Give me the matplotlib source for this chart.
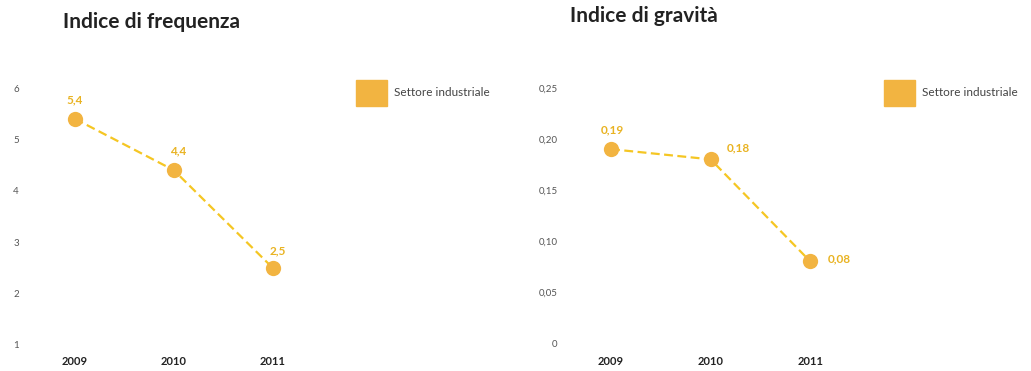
import matplotlib.pyplot as plt
from matplotlib.patches import Patch
from matplotlib.ticker import FuncFormatter

plt.rcParams.update({
    'font.family': ['Lato', 'DejaVu Sans'],
    'axes.spines.top': False,
    'axes.spines.right': False,
})

years = ['2009', '2010', '2011']
freq = [5.4, 4.4, 2.5]
grav = [0.19, 0.18, 0.08]
freq_ticks = [1, 2, 3, 4, 5, 6]
grav_ticks = [0, 0.05, 0.10, 0.15, 0.20, 0.25]
series_name = 'Settore industriale'

dot_col = '#f2b441'
line_col = '#f5c623'
lbl_col = '#e9b322'
tick_col = '#555555'

fig = plt.figure(figsize=(10.31, 3.71), dpi=100)
W, H = 1031, 371


def px_axes(x0, x1, ytop, ybot):
    return fig.add_axes([x0 / W, 1 - ybot / H, (x1 - x0) / W, (ybot - ytop) / H])


def comma(v, _pos=None, nd=2):
    if v == 0:
        return '0'
    return f'{v:.{nd}f}'.replace('.', ',')


def draw(ax, vals, ticks, ylim, xlim, fmt, offsets, ypad):
    x = list(range(len(vals)))
    ax.plot(x, vals, ls=(0, (4, 2)), color=line_col, lw=1.6, zorder=2)
    ax.plot(x, vals, 'o', ms=11, color=dot_col, mec='none', zorder=3)
    for xi, v, (dx, dy) in zip(x, vals, offsets):
        ax.annotate(fmt(v), (xi, v), xytext=(dx, dy), textcoords='offset points',
                    ha='center', va='center', color=lbl_col, fontsize=8.5,
                    fontweight='bold')
    ax.set_xlim(*xlim)
    ax.set_ylim(*ylim)
    ax.set_yticks(ticks)
    ax.set_xticks(x)
    ax.set_xticklabels(years, fontweight='bold', fontsize=8, color='#222222')
    for s in ax.spines.values():
        s.set_visible(False)
    ax.tick_params(axis='both', length=0)
    ax.tick_params(axis='y', labelsize=7, labelcolor=tick_col, pad=ypad)
    ax.tick_params(axis='x', pad=4)


# frequency index
ax1 = px_axes(30, 330, 80.3, 350)
draw(ax1, freq, freq_ticks, (0.9, 6.15), (-0.4545, 2.58),
     lambda v: comma(v, nd=1), [(0, 14), (3, 14), (4, 12)], 8)
ax1.yaxis.set_major_formatter(FuncFormatter(lambda v, p: f'{v:g}'))

# severity index
ax2 = px_axes(570, 870, 80.3, 350)
draw(ax2, grav, grav_ticks, (-0.00686, 0.2575), (-0.412, 2.6),
     lambda v: comma(v, nd=2), [(1, 14), (20, 8), (21, 2)], 9)
ax2.yaxis.set_major_formatter(FuncFormatter(lambda v, p: comma(v)))

fig.text(63 / W, 1 - 22 / H, 'Indice di frequenza', fontsize=15,
         fontweight='bold', color='#222222', va='center', ha='left')
fig.text(570 / W, 1 - 16 / H, 'Indice di gravità', fontsize=15,
         fontweight='bold', color='#222222', va='center', ha='left')

for ax, lx in ((ax1, 356), (ax2, 884)):
    ax.legend(handles=[Patch(color=dot_col, label=series_name)],
              loc='center left', bbox_to_anchor=(lx / W, 1 - 93 / H),
              bbox_transform=fig.transFigure, frameon=False, fontsize=8.5,
              handlelength=2.6, handleheight=2.9, handletextpad=0.6,
              borderpad=0, borderaxespad=0, labelcolor='#444444')

fig.savefig('out.png', dpi=100)
